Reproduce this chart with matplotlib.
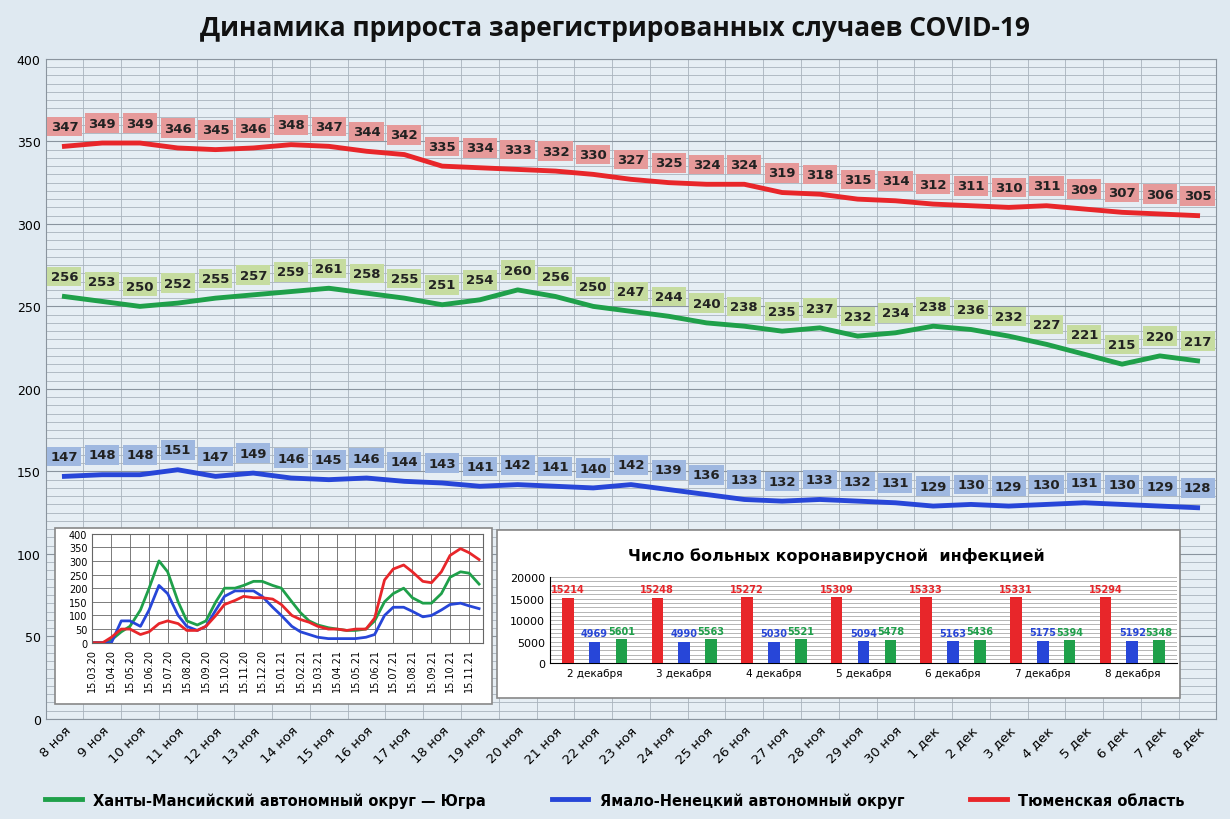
import matplotlib
matplotlib.use("Agg")
import matplotlib.pyplot as plt
import numpy as np
import matplotlib.dates as mdates
import datetime as dt

days = ["8 ноя","9 ноя","10 ноя","11 ноя","12 ноя","13 ноя","14 ноя","15 ноя","16 ноя","17 ноя",
        "18 ноя","19 ноя","20 ноя","21 ноя","22 ноя","23 ноя","24 ноя","25 ноя","26 ноя","27 ноя",
        "28 ноя","29 ноя","30 ноя","1 дек","2 дек","3 дек","4 дек","5 дек","6 дек","7 дек","8 дек"]
tyumen = [347,349,349,346,345,346,348,347,344,342,335,334,333,332,330,327,325,324,324,319,318,315,314,312,311,310,311,309,307,306,305]
hmao = [256,253,250,252,255,257,259,261,258,255,251,254,260,256,250,247,244,240,238,235,237,232,234,238,236,232,227,221,215,220,217]
yanao = [147,148,148,151,147,149,146,145,146,144,143,141,142,141,140,142,139,136,133,132,133,132,131,129,130,129,130,131,130,129,128]

# inset history (readings on the 1st and 15th of each month, 15.03.20 .. 01.12.21)
hist_red = [0,0,20,50,50,30,40,70,80,70,45,45,60,100,140,155,170,165,165,160,140,100,85,75,60,50,50,45,50,50,90,230,270,285,260,225,220,260,320,345,330,305]
hist_green = [0,0,10,40,60,120,200,300,260,150,80,65,80,150,200,200,210,225,225,210,200,150,110,80,65,55,50,45,45,50,80,150,180,200,165,145,145,180,240,260,255,215]
hist_blue = [0,0,0,80,80,60,120,210,180,100,60,45,60,120,170,190,190,190,170,130,100,60,40,30,20,15,15,15,15,20,30,100,130,130,115,95,100,120,140,145,135,125]

bar_dates = ["2 декабря","3 декабря","4 декабря","5 декабря","6 декабря","7 декабря","8 декабря"]
bar_tyumen = [15214,15248,15272,15309,15333,15331,15294]
bar_yanao = [4969,4990,5030,5094,5163,5175,5192]
bar_hmao = [5601,5563,5521,5478,5436,5394,5348]

RED, GREEN, BLUE = "#e8262a", "#1fa04a", "#2746d8"

fig = plt.figure(figsize=(12.3, 8.2), dpi=100)
fig.patch.set_facecolor("#dfe9f1")
fig.text(0.5, 0.965, "Динамика прироста зарегистрированных случаев COVID-19", ha="center", va="center",
         fontsize=19, fontweight="bold", color="#111111", family="Open Sans")

ax = fig.add_axes([0.037, 0.122, 0.952, 0.805])
ax.set_facecolor("#e6eef4")
x = np.arange(len(days))
ax.set_xlim(-0.5, len(days) - 0.5)
ax.set_ylim(0, 400)
ax.set_yticks(range(0, 401, 50))
ax.set_yticks(range(0, 401, 5), minor=True)
ax.grid(which="minor", axis="y", color="#a9b3bd", lw=0.6)
ax.grid(which="major", axis="y", color="#8a949e", lw=0.8)
for xi in np.arange(-0.5, len(days), 1):
    ax.axvline(xi, color="#a9b3bd", lw=0.6, zorder=0)
ax.set_axisbelow(True)
ax.set_xticks(x)
ax.set_xticklabels(days, rotation=45, ha="right", rotation_mode="anchor", fontsize=9.5)
ax.tick_params(axis="y", labelsize=9, length=0, which="both")
ax.tick_params(axis="x", length=0)
for s in ax.spines.values():
    s.set_color("#8a949e")

for vals, c, bc, lab in [(hmao, GREEN, "#c6dca0", "Ханты-Мансийский автономный округ — Югра"),
                         (yanao, BLUE, "#9fb8e0", "Ямало-Ненецкий автономный округ"),
                         (tyumen, RED, "#e69a9a", "Тюменская область")]:
    ax.plot(x, vals, color=c, lw=3.5, label=lab, zorder=3)
    for xi, v in zip(x, vals):
        ax.text(xi, v + 12, str(v), ha="center", va="center", fontsize=9.5, fontweight="bold",
                color="#222222", zorder=4,
                bbox=dict(boxstyle="square,pad=0.25", fc=bc, ec="none"))

leg = fig.legend(loc="lower center", bbox_to_anchor=(0.5, -0.002), ncol=3, frameon=False,
                 fontsize=10.5, columnspacing=4.5, handlelength=2.5)
for t in leg.get_texts():
    t.set_fontweight("bold")

# left inset
fig.patches.append(plt.Rectangle((0.045, 0.14), 0.355, 0.215, transform=fig.transFigure,
                                 fc="white", ec="#888888", lw=1.2, zorder=5))
ax1 = fig.add_axes([0.075, 0.215, 0.318, 0.133], zorder=6)
dates = []
for yr in (2020, 2021):
    for m in range(1, 13):
        for d in (1, 15):
            dates.append(dt.date(yr, m, d))
dates = [d for d in dates if dt.date(2020, 3, 15) <= d <= dt.date(2021, 12, 1)]
ax1.plot(dates, hist_green, color=GREEN, lw=2)
ax1.plot(dates, hist_blue, color=BLUE, lw=2)
ax1.plot(dates, hist_red, color=RED, lw=2)
ax1.set_ylim(0, 400)
ax1.set_yticks(range(0, 401, 50))
ax1.set_xlim(dt.date(2020, 3, 15), dt.date(2021, 12, 8))
ax1.xaxis.set_major_locator(mdates.DayLocator(bymonthday=15))
ax1.xaxis.set_major_formatter(mdates.DateFormatter("%d.%m.%y"))
ax1.tick_params(axis="x", labelrotation=90, labelsize=7, length=0)
ax1.tick_params(axis="y", labelsize=7, length=0)
ax1.grid(color="#666666", lw=0.6)
for s in ax1.spines.values():
    s.set_color("#666666")

# right inset
fig.patches.append(plt.Rectangle((0.404, 0.147), 0.555, 0.205, transform=fig.transFigure,
                                 fc="white", ec="#888888", lw=1.2, zorder=5))
ax2 = fig.add_axes([0.447, 0.19, 0.51, 0.105], zorder=6)
fig.text(0.68, 0.322, "Число больных коронавирусной  инфекцией", ha="center", va="center",
         fontsize=11.5, fontweight="bold", zorder=7)
bx = np.arange(len(bar_dates))
w = 0.13
for off, vals, c in [(-0.3, bar_tyumen, RED), (0, bar_yanao, BLUE), (0.3, bar_hmao, GREEN)]:
    ax2.bar(bx + off, vals, width=w, color=c, zorder=3)
    for xi, v in zip(bx + off, vals):
        ax2.text(xi, v + 800, str(v), ha="center", va="bottom", fontsize=7, fontweight="bold",
                 color=c, zorder=4)
ax2.set_ylim(0, 20000)
ax2.set_xlim(-0.5, len(bar_dates) - 0.5)
ax2.set_yticks(range(0, 20001, 5000))
ax2.set_yticks(range(0, 20001, 1000), minor=True)
ax2.grid(which="both", axis="y", color="#999999", lw=0.5)
ax2.set_xticks(bx)
ax2.set_xticklabels(bar_dates, fontsize=7.5)
ax2.tick_params(axis="y", labelsize=8, length=0, which="both")
ax2.tick_params(axis="x", length=0)
for k in ("top", "right"):
    ax2.spines[k].set_visible(False)

fig.savefig("out.png", dpi=100, facecolor=fig.get_facecolor())
